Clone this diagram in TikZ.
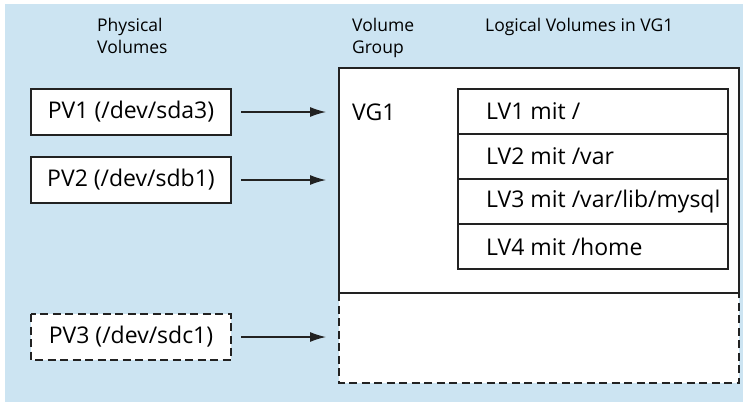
\documentclass[tikz,border=0pt]{standalone}
\usepackage{fontspec}
\setmainfont{Open Sans}
\usetikzlibrary{positioning}
\usetikzlibrary{arrows.meta}

\definecolor{lvmblue}{RGB}{204,228,242}
\definecolor{lvmline}{RGB}{34,34,34}

\begin{document}
\begin{tikzpicture}[x=1pt,y=-1pt,
    pvbox/.style={draw=lvmline, line width=1.1pt, fill=white, minimum width=200pt,
      minimum height=46pt, inner sep=0pt, outer sep=0pt, font=\fontsize{23}{27}\selectfont},
    lvbox/.style={draw=lvmline, line width=1.1pt, minimum width=270pt, minimum height=45pt,
      inner sep=0pt, outer sep=0pt},
    lvtext/.style={inner sep=0pt, font=\fontsize{23}{27}\selectfont},
    headtext/.style={inner sep=0pt, align=left, font=\fontsize{17.5}{22}\selectfont},
    pvarrow/.style={-{Latex[length=16pt,width=10pt]}, line width=1.3pt, draw=lvmline,
      shorten <=10pt, shorten >=13pt},
    freeline/.style={draw=lvmline, line width=1.1pt, dash pattern=on 8pt off 4.5pt}]

        % Background
        \useasboundingbox (0,0) rectangle (748,402);
        \fill[lvmblue] (5,4) rectangle (743,402);

        % Headings
        \node[headtext, anchor=north west] (pvhead) at (97,18) {Physical\\Volumes};
        \node[headtext, anchor=north west] (vghead) at (352,18) {Volume\\Group};
        \node[headtext, anchor=north west] (lvhead) at (485,18) {Logical Volumes in VG1};

        % Volume group and free space
        \node[lvbox, fill=white, minimum width=400pt, minimum height=225pt] (vg) at (539,180.5) {};
        \node[fill=white, minimum width=400pt, minimum height=90pt, inner sep=0pt, outer sep=0pt,
          below=0pt of vg] (vgfree) {};
        \draw[freeline] (vg.south west) |- (vgfree.south east) -- (vg.south east);
        \draw[lvbox] (vg.south west) -- (vg.south east);
        \node[lvtext, anchor=west] (vgname) at (352,112) {VG1};

        % Logical volumes
        \node[lvbox] (lv1) at (593,111.5) {};
        \node[lvbox, below=0pt of lv1] (lv2) {};
        \node[lvbox, below=0pt of lv2] (lv3) {};
        \node[lvbox, below=0pt of lv3] (lv4) {};
        \node[lvtext, right=28pt of lv1.west] {LV1 mit /};
        \node[lvtext, right=28pt of lv2.west] {LV2 mit /var};
        \node[lvtext, right=28pt of lv3.west] {LV3 mit /var/lib/mysql};
        \node[lvtext, right=28pt of lv4.west] {LV4 mit /home};

        % Physical volumes
        \node[pvbox] (pv1) at (131,112) {PV1 (/dev/sda3)};
        \node[pvbox] (pv2) at (131,180) {PV2 (/dev/sdb1)};
        \node[pvbox, draw=none] (pv3) at (131,337) {PV3 (/dev/sdc1)};
        \draw[freeline] (pv3.north west) rectangle (pv3.south east);

        \draw[pvarrow] (pv1) -- (pv1 -| vg.west);
        \draw[pvarrow] (pv2) -- (pv2 -| vg.west);
        \draw[pvarrow] (pv3) -- (pv3 -| vgfree.west);
      \end{tikzpicture}
\end{document}
